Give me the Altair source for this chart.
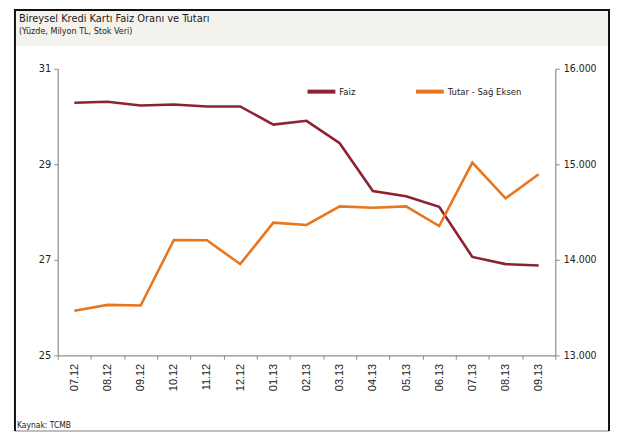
import altair as alt
import pandas as pd

months = ["07.12", "08.12", "09.12", "10.12", "11.12", "12.12", "01.13", "02.13",
          "03.13", "04.13", "05.13", "06.13", "07.13", "08.13", "09.13"]
faiz = [30.29, 30.31, 30.23, 30.25, 30.21, 30.21, 29.83, 29.91, 29.44, 28.44,
        28.33, 28.11, 27.06, 26.91, 26.88]
tutar = [13466, 13528, 13521, 14208, 14205, 13955, 14389, 14365, 14559, 14545,
         14559, 14354, 15018, 14643, 14896]
series_names = ["Faiz", "Tutar - Sağ Eksen"]
series_colors = ["#8B2332", "#E8761E"]
left_ticks = [25, 27, 29, 31]
right_ticks = [13000, 14000, 15000, 16000]

title_text = "Bireysel Kredi Kartı Faiz Oranı ve Tutarı"
subtitle_text = "(Yüzde, Milyon TL, Stok Veri)"
source_text = "Kaynak: TCMB"

df = pd.DataFrame({
    "Ay": months + months,
    "Seri": [series_names[0]] * len(months) + [series_names[1]] * len(months),
    "Deger": faiz + tutar,
})

NARROW = "DejaVu Sans Condensed, Liberation Sans Narrow, Liberation Sans, Arial"
SANS = "Liberation Sans, Arial"
AX = "#8c8c8c"

x = alt.X("Ay:O", sort=months,
          scale=alt.Scale(type="band", paddingInner=0, paddingOuter=0),
          bandPosition=0.5,
          axis=alt.Axis(title=None, labelAngle=270, labelFont=SANS, labelFontSize=11,
                        labelColor="#222", tickBand="extent", domainColor=AX,
                        tickColor=AX, tickSize=4, labelPadding=4, domainWidth=1.2,
                        labelAlign="right", labelBaseline="middle"))

color = alt.Color("Seri:N", scale=alt.Scale(domain=series_names, range=series_colors),
                  legend=alt.Legend(title=None, orient="none", legendX=249, legendY=7,
                                    direction="horizontal", symbolType="stroke",
                                    symbolStrokeWidth=4, symbolSize=784,
                                    labelFont=NARROW, labelFontSize=9.5, labelColor="#222",
                                    columnPadding=52, labelOffset=2, padding=0))

base = alt.Chart(df)
left = base.transform_filter(alt.datum.Seri == series_names[0]).mark_line(strokeWidth=2.6).encode(
    x=x,
    y=alt.Y("Deger:Q", scale=alt.Scale(domain=[25, 31], zero=False, nice=False),
            axis=alt.Axis(values=left_ticks, title=None, orient="left", grid=False,
                          labelFont=NARROW, labelFontSize=11, labelColor="#222",
                          domainColor=AX, tickColor=AX, tickSize=4, labelPadding=3,
                          domainWidth=1.2)),
    color=color,
)
right = base.transform_filter(alt.datum.Seri == series_names[1]).mark_line(strokeWidth=2.6).encode(
    x=x,
    y=alt.Y("Deger:Q", scale=alt.Scale(domain=[13000, 16000], zero=False, nice=False),
            axis=alt.Axis(values=right_ticks, title=None, orient="right", grid=False,
                          labelFont=NARROW, labelFontSize=10.5, labelColor="#222",
                          domainColor=AX, tickColor=AX, tickSize=4, labelPadding=4,
                          domainWidth=1.2,
                          labelExpr="replace(format(datum.value, ',.0f'), ',', '.')")),
    color=color,
)

dec = alt.Chart(pd.DataFrame({"d": [0]}))
header_bg = dec.mark_rect(color="#F4F2EC").encode(
    x=alt.value(-43), x2=alt.value(554), y=alt.value(-60), y2=alt.value(-23))
frame_left = dec.mark_rule(color="#111", strokeWidth=2).encode(
    x=alt.value(-43), y=alt.value(-60), y2=alt.value(364))
frame_right = dec.mark_rule(color="#111", strokeWidth=2).encode(
    x=alt.value(554), y=alt.value(-60), y2=alt.value(364))
frame_top = dec.mark_rule(color="#111", strokeWidth=2).encode(
    x=alt.value(-43), x2=alt.value(554), y=alt.value(-59))
frame_bottom = dec.mark_rule(color="#aaaaaa", strokeWidth=1.5).encode(
    x=alt.value(-43), x2=alt.value(554), y=alt.value(364))
title = dec.mark_text(align="left", baseline="middle", font=NARROW, fontSize=11,
                      color="#222").encode(x=alt.value(-39), y=alt.value(-50),
                                           text=alt.value(title_text))
subtitle = dec.mark_text(align="left", baseline="middle", font=NARROW, fontSize=9,
                         color="#222").encode(x=alt.value(-39), y=alt.value(-38),
                                              text=alt.value(subtitle_text))
source = dec.mark_text(align="left", baseline="middle", font=NARROW, fontSize=8.5,
                       color="#222").encode(x=alt.value(-41), y=alt.value(358),
                                            text=alt.value(source_text))

chart = alt.layer(
    header_bg, frame_bottom, frame_left, frame_right, frame_top, title, subtitle, source,
    left, right,
).resolve_scale(y="independent").properties(
    width=500, height=288,
    autosize=alt.AutoSizeParams(type="none"),
    padding={"left": 50, "top": 60, "right": 56, "bottom": 78},
).configure_view(stroke=None).configure_axis(grid=False)

chart.save("out.html", embed_options={"renderer": "svg", "actions": False})
